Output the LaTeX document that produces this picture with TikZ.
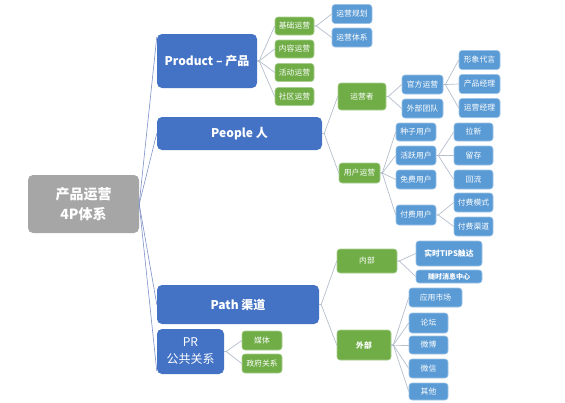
\documentclass[tikz,border=0pt]{standalone}
\usepackage{fontspec}
\setmainfont{Noto Sans CJK SC}
\usetikzlibrary{positioning}
\definecolor{rootgray}{RGB}{166,166,166}
\definecolor{darkblue}{RGB}{68,114,196}
\definecolor{lightblue}{RGB}{91,155,213}
\definecolor{leafgreen}{RGB}{112,173,71}
\definecolor{linkgray}{RGB}{180,190,204}
\definecolor{rootlink}{RGB}{125,145,200}

\begin{document}
\begin{tikzpicture}[
    x=1pt, y=-1pt,
    base/.style={
        rectangle, rounded corners=3pt,
        inner sep=0pt, text=white, align=center
    },
    topic/.style={
        base, fill=rootgray, rounded corners=5pt,
        font=\fontsize{14}{20}\selectfont\bfseries
    },
    branch/.style={
        base, fill=darkblue, rounded corners=5pt,
        font=\fontsize{12}{16}\selectfont\bfseries
    },
    group/.style={
        base, fill=leafgreen, draw=leafgreen!60!white, line width=0.6pt,
        minimum width=39pt, minimum height=18pt,
        font=\fontsize{7.8}{9}\selectfont
    },
    item/.style={
        base, fill=lightblue, draw=lightblue!60!white, line width=0.6pt,
        minimum width=40pt, minimum height=19pt,
        font=\fontsize{7.8}{9}\selectfont
    },
    link/.style={
        draw=linkgray, line width=0.7pt
    },
    rootline/.style={
        draw=rootlink, line width=0.6pt
    }
]
\useasboundingbox (0,0) rectangle (565,402);

% Root
\node[topic, minimum width=111pt, minimum height=58pt] (root) at (83.5,204) {产品运营\\4P体系};

% Main branches
\node[branch, minimum width=100pt, minimum height=54pt] (product) at (207,61) {Product – 产品};
\node[branch, minimum width=165pt, minimum height=33pt] (people) at (239.5,133.5) {People 人};
\node[branch, minimum width=162pt, minimum height=39pt] (path) at (238,304.5) {Path 渠道};
\node[branch, minimum width=67pt, minimum height=45pt, font=\fontsize{12}{17}\selectfont] (pr) at (190.5,351.5) {PR\\公共关系};

% Product
\node[group] (basic) at (294.5,26) {基础运营};
\node[group] (content) at (294.5,49) {内容运营};
\node[group] (event) at (294.5,72.5) {活动运营};
\node[group] (community) at (294.5,96.5) {社区运营};
\node[item] (plan) at (352,14) {运营规划};
\node[item] (system) at (352,37.5) {运营体系};

% People
\node[group, minimum width=48pt, minimum height=27pt] (operator) at (362,96.5) {运营者};
\node[group, minimum width=41pt, minimum height=20pt] (userops) at (359.5,173) {用户运营};
\node[item, minimum width=41pt] (official) at (422.5,84.5) {官方运营};
\node[item, minimum width=41pt] (team) at (422.5,108.5) {外部团队};
\node[item, minimum width=41pt] (image) at (479.5,60) {形象代言};
\node[item, minimum width=41pt] (pm) at (479.5,84) {产品经理};
\node[item, minimum width=41pt] (om) at (479.5,108) {运营经理};
\node[item, minimum height=18pt] (seed) at (416,132) {种子用户};
\node[item] (active) at (416,155.5) {活跃用户};
\node[item] (free) at (416,179.5) {免费用户};
\node[item, minimum height=20pt] (paid) at (416,215) {付费用户};
\node[item, minimum width=39pt, minimum height=18pt] (acquire) at (473.5,132) {拉新};
\node[item, minimum width=39pt] (retain) at (473.5,155.5) {留存};
\node[item, minimum width=39pt] (reflow) at (473.5,179.5) {回流};
\node[item, minimum width=39pt] (paymode) at (473.5,202.5) {付费模式};
\node[item, minimum width=39pt] (paychan) at (473.5,226.5) {付费渠道};

% Path
\node[group, minimum width=60pt, minimum height=24pt] (inner) at (367,261) {内部};
\node[group, minimum width=54pt, minimum height=30pt, font=\fontsize{7.8}{9}\selectfont\bfseries] (outer) at (364,345) {外部};
\node[item, minimum width=66pt, minimum height=25pt, font=\fontsize{7.8}{9}\selectfont\bfseries] (tips) at (449,253.5) {实时TIPS触达};
\node[item, minimum width=66pt, minimum height=13pt, font=\fontsize{7}{9}\selectfont\bfseries] (msg) at (449,276.5) {随时消息中心};
\node[item, minimum width=53pt] (store) at (435.5,297.5) {应用市场};
\node[item, minimum width=39pt, minimum height=20pt] (forum) at (428.5,323) {论坛};
\node[item, minimum width=39pt, minimum height=18pt] (weibo) at (428.5,345) {微博};
\node[item, minimum width=39pt] (wechat) at (428.5,368.5) {微信};
\node[item, minimum width=39pt, minimum height=17pt] (other) at (428.5,391.5) {其他};

% PR
\node[group, minimum width=40pt, minimum height=19pt] (media) at (262,340.5) {媒体};
\node[group, minimum width=40pt, minimum height=19pt] (gov) at (262,363.5) {政府关系};

% Root links
\draw[rootline] (root.east) -- ([yshift=-3pt]product.north west);
\draw[rootline] (root.east) -- (people.west);
\draw[rootline] (root.east) -- (path.west);
\draw[rootline] (root.east) -- ([yshift=3pt]pr.south west);

% Links
\foreach \p/\c in {product/basic, product/content, product/event, product/community,
    basic/plan, basic/system,
    people/operator, people/userops,
    operator/official, operator/team,
    official/image, official/pm, official/om,
    userops/seed, userops/active, userops/free, userops/paid,
    active/acquire, active/retain, active/reflow,
    paid/paymode, paid/paychan,
    path/inner, path/outer,
    inner/tips, inner/msg,
    outer/store, outer/forum, outer/weibo, outer/wechat, outer/other,
    pr/media, pr/gov}
    \draw[link] (\p.east) -- ++(2,0) -- (\c.west);

\end{tikzpicture}
\end{document}
